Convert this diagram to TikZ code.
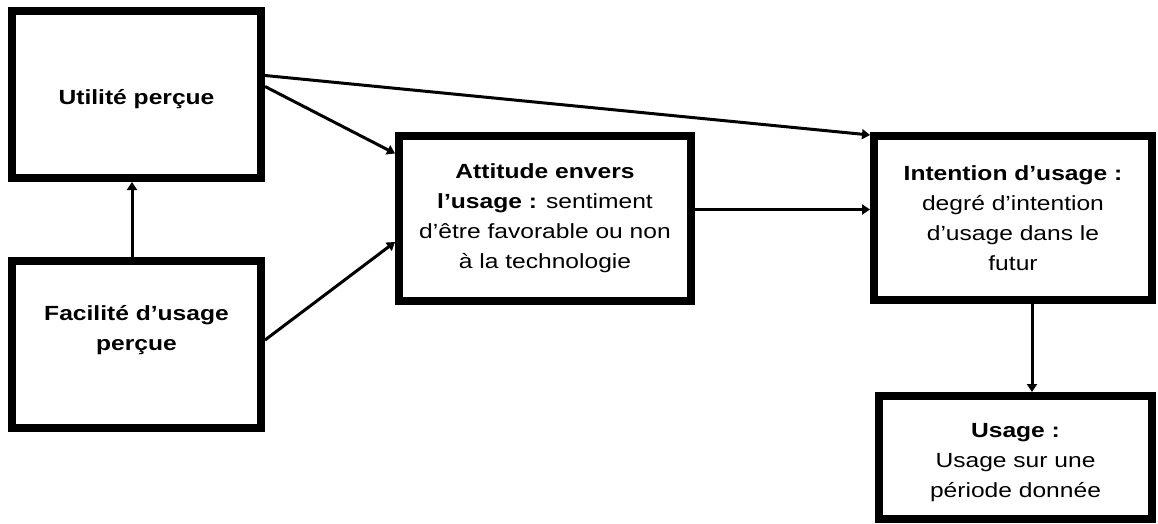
\documentclass[tikz,border=0pt]{standalone}
\usepackage{fontspec}
\setmainfont{Liberation Sans}[FakeStretch=1.2]
\usetikzlibrary{arrows.meta}
\begin{document}
\begin{tikzpicture}[x=1pt,y=-1pt,
  box/.style={draw=black, line width=8pt, fill=white, rectangle, align=center,
    inner sep=0pt, font=\fontsize{20.5}{30}\selectfont},
  txt/.style={align=center, inner sep=0pt, font=\fontsize{20.5}{30}\selectfont},
  arr/.style={line width=3pt, -{Triangle[length=8pt,width=10pt]}}]
\useasboundingbox[fill=white] (0,0) rectangle (1158,524);
\node[box, minimum width=249pt, minimum height=167pt] (u) at (136.5,94.5) {};
\node[txt] (ut) at ([yshift=-5pt]u.center) {\textbf{Utilité perçue}};
\node[box, minimum width=249pt, minimum height=167pt] (f) at (136.5,344.5) {};
\node[txt] (ft) at ([yshift=14pt]f.center) {\textbf{Facilité d’usage}\\\textbf{perçue}};
\node[box, minimum width=292pt, minimum height=165pt] (att) at (545,218.5)
  {\textbf{Attitude envers}\\\textbf{l’usage :} sentiment\\d’être favorable ou non\\à la technologie};
\node[box, minimum width=278pt, minimum height=164pt] (int) at (1013,218)
  {\textbf{Intention d’usage :}\\degré d’intention\\d’usage dans le\\futur};
\node[box, minimum width=273pt, minimum height=123pt] (us) at (1015.5,457.5) {};
\node[txt] (ust) at ([yshift=-5pt]us.center) {\textbf{Usage :}\\Usage sur une\\période donnée};
\draw[arr] ([yshift=8pt]u.east) -- ([yshift=65pt]att.west);
\draw[arr] ([yshift=19pt]u.east) -- ([yshift=83pt]int.west);
\draw[arr] ([yshift=9pt]att.east) -- ([yshift=9pt]att.east -| int.west);
\draw[arr] ([yshift=4.5pt]f.east) -- ([yshift=-23.5pt]att.west);
\draw[arr] ([xshift=-4.5pt]f.north) -- ([xshift=-4.5pt]f.north |- u.south);
\draw[arr] ([xshift=19pt]int.south) -- ([xshift=19pt]int.south |- us.north);
\end{tikzpicture}
\end{document}
